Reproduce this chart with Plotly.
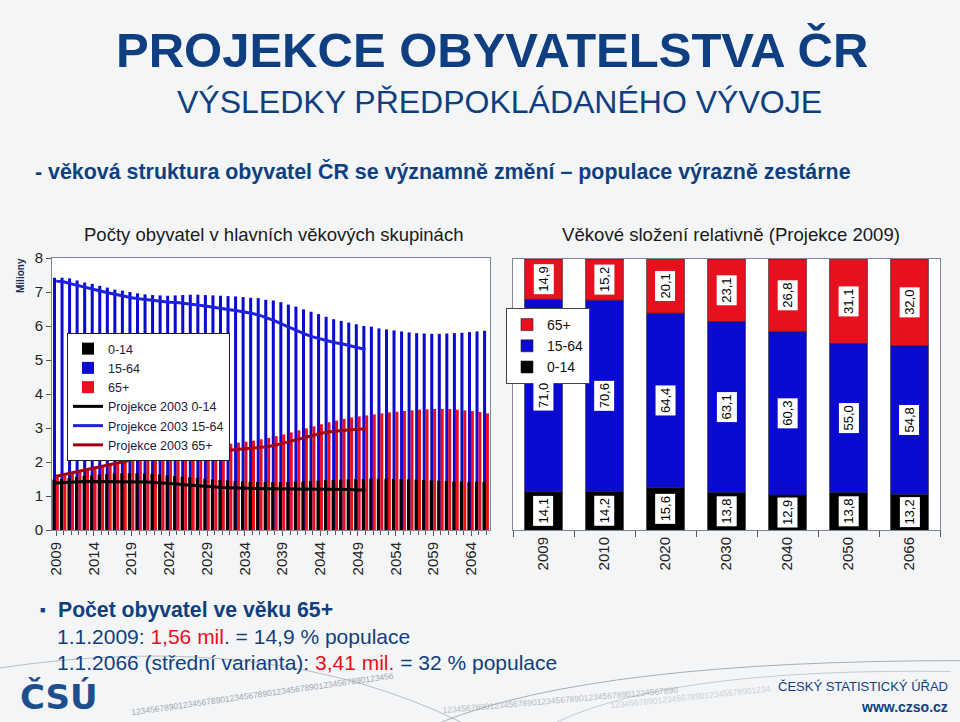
import plotly.graph_objects as go

# ---------------- data ----------------
years = list(range(2009, 2067))
age_0_14 = [1.48, 1.50, 1.53, 1.56, 1.59, 1.61, 1.63, 1.65, 1.66, 1.67,
            1.67, 1.67, 1.66, 1.65, 1.63, 1.61, 1.59, 1.57, 1.55, 1.53,
            1.51, 1.49, 1.47, 1.46, 1.44, 1.43, 1.42, 1.41, 1.41, 1.41,
            1.41, 1.41, 1.42, 1.43, 1.44, 1.45, 1.46, 1.47, 1.48, 1.49,
            1.50, 1.50, 1.51, 1.51, 1.51, 1.50, 1.50, 1.49, 1.48, 1.47,
            1.46, 1.45, 1.44, 1.43, 1.43, 1.42, 1.42, 1.42]
age_15_64 = [7.42, 7.42, 7.40, 7.34, 7.28, 7.24, 7.18, 7.13, 7.07, 7.04,
             7.00, 6.96, 6.93, 6.91, 6.90, 6.89, 6.90, 6.91, 6.92, 6.92,
             6.91, 6.90, 6.89, 6.88, 6.87, 6.85, 6.83, 6.82, 6.77, 6.75,
             6.70, 6.63, 6.57, 6.49, 6.42, 6.35, 6.27, 6.20, 6.15, 6.10,
             6.05, 6.00, 5.98, 5.93, 5.90, 5.87, 5.84, 5.81, 5.79, 5.78,
             5.77, 5.77, 5.78, 5.79, 5.80, 5.82, 5.84, 5.86]
age_65 = [1.56, 1.60, 1.65, 1.72, 1.78, 1.84, 1.90, 1.95, 2.00, 2.05,
          2.09, 2.13, 2.17, 2.20, 2.24, 2.28, 2.31, 2.34, 2.37, 2.41,
          2.44, 2.48, 2.51, 2.54, 2.57, 2.60, 2.63, 2.67, 2.71, 2.76,
          2.81, 2.87, 2.93, 2.99, 3.05, 3.11, 3.17, 3.22, 3.27, 3.31,
          3.34, 3.37, 3.40, 3.43, 3.46, 3.48, 3.50, 3.52, 3.54, 3.55,
          3.56, 3.56, 3.56, 3.54, 3.52, 3.50, 3.47, 3.43]

years_2003 = list(range(2009, 2051))
proj2003_0_14 = [1.38, 1.40, 1.41, 1.42, 1.43, 1.43, 1.43, 1.43, 1.43, 1.43,
                 1.42, 1.42, 1.41, 1.40, 1.39, 1.37, 1.35, 1.33, 1.31, 1.29,
                 1.28, 1.26, 1.25, 1.24, 1.23, 1.22, 1.22, 1.21, 1.21, 1.21,
                 1.21, 1.20, 1.20, 1.20, 1.20, 1.20, 1.20, 1.19, 1.19, 1.19,
                 1.18, 1.18]
proj2003_15_64 = [7.32, 7.30, 7.24, 7.18, 7.12, 7.07, 7.02, 6.97, 6.92, 6.87,
                  6.83, 6.80, 6.77, 6.74, 6.72, 6.70, 6.69, 6.67, 6.64, 6.61,
                  6.58, 6.54, 6.51, 6.48, 6.45, 6.42, 6.37, 6.31, 6.24, 6.15,
                  6.05, 5.95, 5.85, 5.76, 5.68, 5.62, 5.56, 5.51, 5.47, 5.42,
                  5.37, 5.31]
proj2003_65 = [1.58, 1.63, 1.68, 1.73, 1.78, 1.83, 1.88, 1.93, 1.98, 2.03,
               2.07, 2.11, 2.15, 2.18, 2.20, 2.21, 2.22, 2.23, 2.25, 2.27,
               2.29, 2.31, 2.33, 2.35, 2.37, 2.38, 2.40, 2.42, 2.45, 2.49,
               2.55, 2.61, 2.67, 2.73, 2.79, 2.84, 2.88, 2.91, 2.93, 2.95,
               2.96, 2.98]

left_ticks = list(range(2009, 2065, 5))

rel_years = ["2009", "2010", "2020", "2030", "2040", "2050", "2066"]
pct_0_14 = [14.1, 14.2, 15.6, 13.8, 12.9, 13.8, 13.2]
pct_15_64 = [71.0, 70.6, 64.4, 63.1, 60.3, 55.0, 54.8]
pct_65 = [14.9, 15.2, 20.1, 23.1, 26.8, 31.1, 32.0]

# ---------------- styles ----------------
BLUE = "#0a0ad0"
RED = "#e8101e"
BLACK = "#000000"
DARKRED = "#a00014"
LINEBLUE = "#2020e0"
NAVY = "#0f3f80"
FONT = "Liberation Sans, Arial, sans-serif"

fig = go.Figure()

# left chart: overlapping bars
fig.add_trace(go.Bar(x=years, y=age_15_64, name="15-64", marker_color=BLUE,
                     offset=-0.42, width=0.40, marker_line_width=0,
                     legend="legend", legendrank=2))
fig.add_trace(go.Bar(x=years, y=age_0_14, name="0-14", marker_color=BLACK,
                     offset=-0.50, width=0.42, marker_line_width=0,
                     legend="legend", legendrank=1))
fig.add_trace(go.Bar(x=years, y=age_65, name="65+", marker_color=RED,
                     offset=-0.04, width=0.40, marker_line_width=0,
                     legend="legend", legendrank=3))
fig.add_trace(go.Scatter(x=years_2003, y=proj2003_0_14, mode="lines",
                         name="Projekce 2003 0-14",
                         line=dict(color=BLACK, width=3),
                         legend="legend", legendrank=4))
fig.add_trace(go.Scatter(x=years_2003, y=proj2003_15_64, mode="lines",
                         name="Projekce 2003 15-64",
                         line=dict(color=LINEBLUE, width=3),
                         legend="legend", legendrank=5))
fig.add_trace(go.Scatter(x=years_2003, y=proj2003_65, mode="lines",
                         name="Projekce 2003 65+",
                         line=dict(color=DARKRED, width=3),
                         legend="legend", legendrank=6))

# right chart: 100% stacked bars (stacking via base, since layout uses overlay)
xpos = list(range(len(rel_years)))
base_15_64 = pct_0_14
base_65 = [a + b for a, b in zip(pct_0_14, pct_15_64)]
for vals, base, nm, col, rk in [(pct_0_14, [0] * len(pct_0_14), "0-14", BLACK, 3),
                                (pct_15_64, base_15_64, "15-64", BLUE, 2),
                                (pct_65, base_65, "65+", RED, 1)]:
    fig.add_trace(go.Bar(x=xpos, y=vals, base=base, name=nm, marker_color=col,
                         marker_line=dict(color="#202020", width=0.6),
                         width=0.62, xaxis="x2", yaxis="y2",
                         legend="legend2", legendrank=rk))

annotations = []
# value labels in right chart
for i in xpos:
    a, b, c = pct_0_14[i], pct_15_64[i], pct_65[i]
    for val, mid in [(a, a / 2), (b, a + b / 2), (c, a + b + c / 2)]:
        annotations.append(dict(
            x=i, y=mid, xref="x2", yref="y2",
            text=f"{val:.1f}".replace(".", ","), textangle=-90,
            showarrow=False, bgcolor="white", borderpad=2,
            font=dict(family=FONT, size=13, color="black")))

def txt(x, y, text, size, color="black", bold=False, xanchor="center",
        family=FONT, angle=0, opacity=1):
    if bold:
        text = f"<b>{text}</b>"
    annotations.append(dict(x=x / 960, y=1 - y / 722, xref="paper",
                            yref="paper", text=text, showarrow=False,
                            xanchor=xanchor, yanchor="middle",
                            textangle=angle, opacity=opacity,
                            font=dict(family=family, size=size, color=color)))

# decorative digit strings (behind texts)
digits = "1234567890" * 8
txt(262, 694, digits[:56], 8.5, "#8a93a3", angle=-8, opacity=0.8)
txt(560, 700, digits[:50], 8.5, "#9aa2b0", angle=-5, opacity=0.7)
txt(690, 697, digits[:34], 8.5, "#b0b6c0", angle=-6, opacity=0.6)

txt(492, 50, "PROJEKCE OBYVATELSTVA ČR", 49, NAVY, bold=True)
txt(499, 102, "VÝSLEDKY PŘEDPOKLÁDANÉHO VÝVOJE", 32, NAVY)
txt(33, 172, "- věková struktura obyvatel ČR se významně změní – populace výrazně zestárne",
    21.4, NAVY, bold=True, xanchor="left")
txt(273, 234, "Počty obyvatel v hlavních věkových skupinách", 18.5, "#1a1a1a")
txt(731, 234, "Věkové složení relativně (Projekce 2009)", 18.6, "#1a1a1a")
txt(20, 276, "Miliony", 10, "#1a2a50", bold=True, angle=-90)

txt(38, 610, "■", 9, NAVY, xanchor="left")
txt(56, 610, "Počet obyvatel ve věku 65+", 21.2, NAVY, bold=True, xanchor="left")
txt(55, 636, f"1.1.2009: <span style='color:{RED}'>1,56 mil</span>. = 14,9 % populace",
    21, NAVY, xanchor="left")
txt(55, 662, f"1.1.2066 (střední varianta): <span style='color:{RED}'>3,41 mil.</span> = 32 % populace",
    21, NAVY, xanchor="left")

txt(950, 686, "ČESKÝ STATISTICKÝ ÚŘAD", 13, NAVY, xanchor="right")
txt(950, 707, "www.czso.cz", 14, NAVY, bold=True, xanchor="right")
txt(59, 697, "ČSÚ", 34, "#1d4f8e", bold=True, family="DejaVu Sans, sans-serif")

shapes = [
    dict(type="path", xref="paper", yref="paper", layer="below",
         path="M 0,0.075 Q 0.28,0.13 0.48,0.0", line=dict(color="#b8bcc4", width=1)),
    dict(type="path", xref="paper", yref="paper", layer="below",
         path="M 0.46,0.0 Q 0.62,0.085 1.0,0.085", line=dict(color="#a8acb4", width=1)),
    dict(type="path", xref="paper", yref="paper", layer="below",
         path="M 0.58,0.0 Q 0.70,0.075 0.99,0.07", line=dict(color="#c4c8d0", width=1)),
]

axis_common = dict(automargin=False, showgrid=False, showline=True,
                   linecolor="#7f8496", mirror=True, zeroline=False)

fig.update_layout(
    template="none",
    width=960, height=722,
    margin=dict(l=0, r=0, t=0, b=0, autoexpand=False),
    paper_bgcolor="#f4f5f7",
    plot_bgcolor="white",
    barmode="overlay",
    font=dict(family=FONT, color="#222"),
    showlegend=True,
    xaxis=dict(domain=[52 / 960, 490 / 960], range=[2008.45, 2066.5],
               tickvals=left_ticks, tickangle=-90, ticks="outside", ticklen=5,
               tickfont=dict(size=15, color="#222"), tickcolor="#555",
               minor=dict(ticks="outside", dtick=1, tick0=2009, ticklen=4,
                          tickcolor="#555"),
               **axis_common),
    yaxis=dict(domain=[1 - 530 / 722, 1 - 258 / 722], range=[0, 8],
               dtick=1, ticks="outside", ticklen=5, tickcolor="#555",
               tickfont=dict(size=15, color="#222"),
               **axis_common),
    xaxis2=dict(domain=[513 / 960, 940 / 960], anchor="y2",
                range=[-0.5, len(rel_years) - 0.5],
                tickvals=xpos, ticktext=rel_years,
                tickangle=-90, ticks="",
                tickfont=dict(size=15, color="#222"),
                minor=dict(ticks="outside",
                           tickvals=[i - 0.5 for i in range(len(rel_years) + 1)],
                           ticklen=6, tickcolor="#555"),
                **axis_common),
    yaxis2=dict(domain=[1 - 530 / 722, 1 - 259 / 722], anchor="x2",
                range=[0, 100], showticklabels=False, ticks="",
                **axis_common),
    legend=dict(x=67 / 960, y=1 - 333 / 722, xanchor="left", yanchor="top",
                bgcolor="white", bordercolor="#222", borderwidth=1,
                font=dict(size=12.5, color="#1a2040"), tracegroupgap=0,
                itemwidth=30),
    legend2=dict(x=506 / 960, y=1 - 308 / 722, xanchor="left", yanchor="top",
                 bgcolor="white", bordercolor="#444", borderwidth=1,
                 font=dict(size=14, color="#111"), itemwidth=30),
    annotations=annotations,
    shapes=shapes,
)

fig.write_html("out.html", config={"displayModeBar": False},
               post_script="document.body.style.margin='0px';")
